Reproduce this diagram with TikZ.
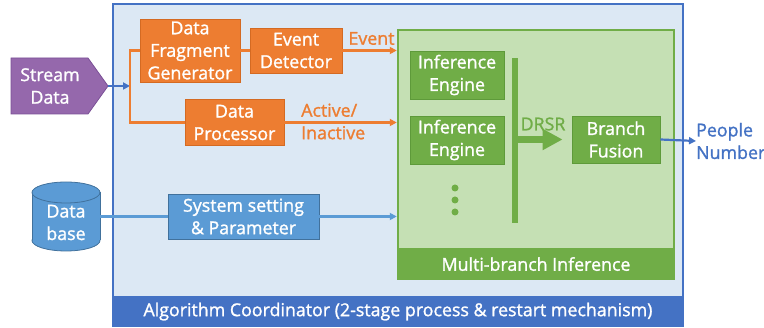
\documentclass[tikz,border=0pt]{standalone}
\usepackage{fontspec}
\setmainfont{Open Sans}[BoldFont={Open Sans}, BoldFeatures={FakeBold=1.3}]
\usetikzlibrary{arrows.meta}
\definecolor{bgblue}{HTML}{DCE8F4}
\definecolor{frameblue}{HTML}{4472C4}
\definecolor{midblue}{HTML}{5B9BD5}
\definecolor{midblueedge}{HTML}{41719C}
\definecolor{orng}{HTML}{ED7D31}
\definecolor{orngedge}{HTML}{D46A22}
\definecolor{grn}{HTML}{70AD47}
\definecolor{grnedge}{HTML}{5E9A3A}
\definecolor{lightgrn}{HTML}{C5E0B4}
\definecolor{purp}{HTML}{9568AC}
\definecolor{purpedge}{HTML}{7A4F96}
\begin{document}
\begin{tikzpicture}[x=1pt,y=-1pt,
  txt/.style={font=\fontsize{17.8}{22.5}\selectfont\bfseries, align=center, inner sep=0pt},
  obox/.style={txt, draw=orngedge, fill=orng, text=white, line width=0.8pt},
  gbox/.style={txt, draw=grnedge, fill=grn, text=white, line width=0.8pt},
  bbox/.style={txt, draw=midblueedge, fill=midblue, text=white, line width=0.8pt},
  tipsm/.style={-{Triangle[length=7pt,width=7pt]}},
  oline/.style={draw=orng, line width=2.2pt},
  oarrow/.style={oline, tipsm},
  barrow/.style={draw=frameblue, line width=2.2pt, tipsm},
  lline/.style={draw=midblue, line width=2.2pt},
  larrow/.style={lline, tipsm},
  dotnode/.style={circle, fill=grn, minimum size=7pt, inner sep=0pt},
]
\useasboundingbox (0,0) rectangle (764,328);

% outer coordinator frame with its title band
\node[draw=frameblue, line width=2.5pt, fill=bgblue, minimum width=570pt,
      minimum height=322pt, inner sep=0pt] (coord) at (398,165) {};
\node[txt, fill=frameblue, text=white, minimum width=570pt, minimum height=31pt,
      anchor=south] (coordband) at (coord.south)
      {Algorithm Coordinator (2-stage process \& restart mechanism)};

% multi-branch inference block
\node[draw=grn, line width=2.5pt, fill=lightgrn, minimum width=276pt,
      minimum height=249pt, inner sep=0pt] (mbi) at (536,154.5) {};
\node[txt, fill=grn, text=white, minimum width=276pt, minimum height=32pt,
      anchor=south] (mbiband) at (mbi.south) {Multi-branch Inference};

% stream data input
\filldraw[fill=purp, draw=purpedge, line width=0.8pt]
  (11,58) -- (88,58) -- (108,86) -- (88,114) -- (11,114) -- cycle;
\node[txt, text=white] (stream) at (50,86) {Stream\\Data};
\coordinate (tip) at (108,86);
\coordinate (split) at (130,86);

% database cylinder
\filldraw[fill=midblue, draw=midblueedge, line width=0.8pt]
  (66,240.5) ellipse [x radius=34, y radius=10.5];
\fill[midblue] (32,192.5) rectangle (100,240.5);
\draw[midblueedge, line width=0.8pt] (32,192.5) -- (32,240.5) (100,192.5) -- (100,240.5);
\filldraw[fill=midblue, draw=midblueedge, line width=0.8pt]
  (66,192.5) ellipse [x radius=34, y radius=10.5];
\node[minimum width=68pt, minimum height=69pt, inner sep=0pt] (db) at (66,216.5) {};
\node[txt, text=white] (dbtext) at (66,222.5) {Data\\base};

% processing boxes
\node[obox, minimum width=100pt, minimum height=63pt] (dfg) at (190,50.5) {Data\\Fragment\\Generator};
\node[obox, minimum width=92pt, minimum height=45pt] (ed) at (296,50.5) {Event\\Detector};
\node[obox, minimum width=99pt, minimum height=46pt] (dp) at (234.5,122.5) {Data\\Processor};
\node[bbox, minimum width=151pt, minimum height=45pt] (ssp) at (243.5,216.5) {System setting\\\& Parameter};

% inference engines and fusion
\node[gbox, minimum width=94pt, minimum height=48pt] (ie1) at (457,75) {Inference\\Engine};
\node[gbox, minimum width=94pt, minimum height=48pt] (ie2) at (457,140) {Inference\\Engine};
\node[dotnode] (d1) at (455,188) {};
\node[dotnode] (d2) at (455,200) {};
\node[dotnode] (d3) at (455,212) {};
\node[fill=grn, minimum width=6pt, minimum height=165pt, inner sep=0pt] (bar) at (515,140.5) {};
\node[gbox, minimum width=88pt, minimum height=47pt] (bf) at (616,139.5) {Branch\\Fusion};
\node[txt, text=grn] (drsr) at (543,124) {DRSR};
\draw[grn, line width=7pt, -{Triangle[length=20pt,width=20pt]}]
  (bar.east |- bf.west) -- ([xshift=-9pt]bf.west);

% output
\node[txt, text=frameblue, align=left, anchor=west] (pn) at (696,141) {People\\Number};

% connectors
\draw[barrow] (tip) -- (split);
\draw[oline] (dfg.west) -| (split) |- (dp.west);
\draw[oline] (dfg.east) -- (ed.west);
\draw[oarrow] (ed.east) -- (ed.east -| mbi.west)
  node[pos=0, anchor=south west, txt, text=orng, xshift=5pt, yshift=4.5pt] (evlbl) {Event};
\draw[oarrow] (dp.east) -- (dp.east -| mbi.west)
  node[pos=0.14, anchor=west, txt, text=orng, align=left, yshift=1pt] (actlbl) {Active/\\Inactive};
\draw[lline] (db.east) -- (ssp.west);
\draw[larrow] (ssp.east) -- (ssp.east -| mbi.west);
\draw[barrow] (bf.east) -- (pn.west);
\end{tikzpicture}
\end{document}
